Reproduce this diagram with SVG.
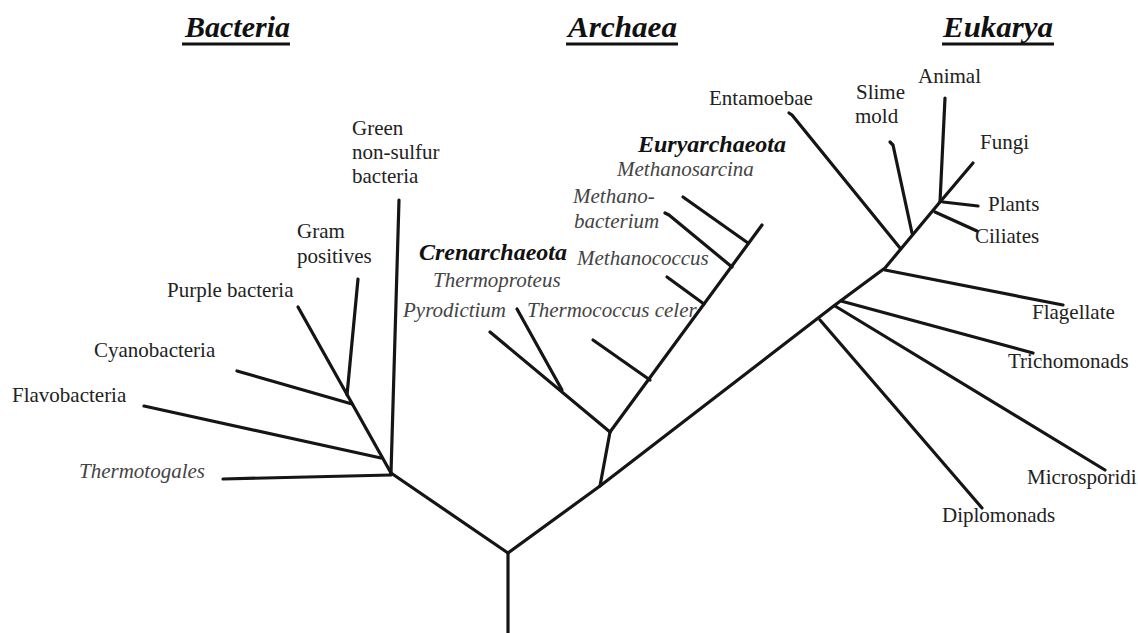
<svg xmlns="http://www.w3.org/2000/svg" width="1138" height="633" viewBox="0 0 1138 633">
  <style>
    .bg { fill: #ffffff; }
    .branch { fill: none; stroke: #151515; stroke-width: 3.2; stroke-linecap: round; stroke-linejoin: round; }
    .label { font-family: 'Liberation Serif', 'Tinos', 'Noto Serif', 'DejaVu Serif', 'Times New Roman', Times, serif; font-size: 21px; fill: #222; }
    .species { font-family: 'Liberation Serif', 'Tinos', 'Noto Serif', 'DejaVu Serif', 'Times New Roman', Times, serif; font-size: 21px; font-style: italic; fill: #444; }
    .phylum { font-family: 'Liberation Serif', 'Tinos', 'Noto Serif', 'DejaVu Serif', 'Times New Roman', Times, serif; font-size: 24px; font-style: italic; font-weight: bold; fill: #111; }
    .domain { font-family: 'Liberation Serif', 'Tinos', 'Noto Serif', 'DejaVu Serif', 'Times New Roman', Times, serif; font-size: 30px; font-style: italic; font-weight: bold; fill: #111; }
    .rule { stroke: #111; stroke-width: 3; }
  </style>

  <rect class="bg" x="0" y="0" width="1138" height="633"/>

  <!-- Domain headings -->
  <g id="heading-bacteria">
    <text class="domain" x="185" y="37" textLength="105" lengthAdjust="spacingAndGlyphs">Bacteria</text>
    <line class="rule" x1="182" y1="44" x2="290" y2="44"/>
  </g>
  <g id="heading-archaea">
    <text class="domain" x="568" y="37" textLength="109" lengthAdjust="spacingAndGlyphs">Archaea</text>
    <line class="rule" x1="566" y1="44" x2="678" y2="44"/>
  </g>
  <g id="heading-eukarya">
    <text class="domain" x="943" y="37" textLength="110" lengthAdjust="spacingAndGlyphs">Eukarya</text>
    <line class="rule" x1="942" y1="44" x2="1054" y2="44"/>
  </g>

  <!-- Tree branches -->
  <g id="connectors">
    <!-- root and the three domain trunks -->
    <line class="branch" x1="508" y1="633" x2="508" y2="553"/>
    <line class="branch" x1="508" y1="553" x2="391" y2="473"/>
    <polyline class="branch" points="508,553 600,486 835,305 885,268 940,202"/>

    <!-- Bacteria -->
    <line class="branch" x1="391" y1="473" x2="399" y2="200"/>
    <line class="branch" x1="391" y1="475" x2="223" y2="479"/>
    <line class="branch" x1="391" y1="473" x2="298" y2="307"/>
    <line class="branch" x1="381" y1="458" x2="144" y2="406"/>
    <line class="branch" x1="352" y1="404" x2="237" y2="371"/>
    <line class="branch" x1="347" y1="395" x2="358" y2="279"/>

    <!-- Archaea -->
    <line class="branch" x1="600" y1="486" x2="610" y2="432"/>
    <line class="branch" x1="610" y1="432" x2="490" y2="332"/>
    <line class="branch" x1="562" y1="390" x2="517" y2="309"/>
    <line class="branch" x1="610" y1="432" x2="762" y2="225"/>
    <line class="branch" x1="650" y1="380" x2="593" y2="340"/>
    <line class="branch" x1="704" y1="304" x2="667" y2="277"/>
    <polyline class="branch" points="732,267 669,215 665,213"/>
    <line class="branch" x1="748" y1="243" x2="683" y2="197"/>

    <!-- Eukarya -->
    <line class="branch" x1="820" y1="320" x2="982" y2="508"/>
    <line class="branch" x1="835" y1="306" x2="1105" y2="470"/>
    <line class="branch" x1="841" y1="301" x2="1033" y2="353"/>
    <line class="branch" x1="885" y1="270" x2="1063" y2="305"/>
    <polyline class="branch" points="900,248 792,115 789,113"/>
    <polyline class="branch" points="912,233 893,145 890,142"/>
    <line class="branch" x1="935" y1="212" x2="977" y2="231"/>
    <line class="branch" x1="940" y1="202" x2="945" y2="98"/>
    <line class="branch" x1="940" y1="202" x2="973" y2="163"/>
    <line class="branch" x1="943" y1="202" x2="978" y2="206"/>
  </g>

  <!-- Bacteria taxa -->
  <g id="node-green-non-sulfur">
    <text class="label" x="352" y="135">Green</text>
    <text class="label" x="352" y="159">non-sulfur</text>
    <text class="label" x="352" y="183">bacteria</text>
  </g>
  <g id="node-gram-positives">
    <text class="label" x="297" y="238">Gram</text>
    <text class="label" x="297" y="263">positives</text>
  </g>
  <g id="node-purple-bacteria"><text class="label" x="167" y="297">Purple bacteria</text></g>
  <g id="node-cyanobacteria"><text class="label" x="94" y="357">Cyanobacteria</text></g>
  <g id="node-flavobacteria"><text class="label" x="12" y="402">Flavobacteria</text></g>
  <g id="node-thermotogales"><text class="species" x="79" y="478">Thermotogales</text></g>

  <!-- Archaea taxa -->
  <g id="node-crenarchaeota"><text class="phylum" x="419" y="260">Crenarchaeota</text></g>
  <g id="node-thermoproteus"><text class="species" x="433" y="287">Thermoproteus</text></g>
  <g id="node-pyrodictium"><text class="species" x="403" y="317">Pyrodictium</text></g>
  <g id="node-thermococcus"><text class="species" x="527" y="317">Thermococcus celer</text></g>
  <g id="node-methanococcus"><text class="species" x="577" y="265">Methanococcus</text></g>
  <g id="node-methanobacterium">
    <text class="species" x="573" y="203">Methano-</text>
    <text class="species" x="574" y="228">bacterium</text>
  </g>
  <g id="node-methanosarcina"><text class="species" x="617" y="176">Methanosarcina</text></g>
  <g id="node-euryarchaeota"><text class="phylum" x="638" y="152">Euryarchaeota</text></g>

  <!-- Eukarya taxa -->
  <g id="node-entamoebae"><text class="label" x="709" y="105">Entamoebae</text></g>
  <g id="node-slime-mold">
    <text class="label" x="856" y="99">Slime</text>
    <text class="label" x="855" y="123">mold</text>
  </g>
  <g id="node-animal"><text class="label" x="918" y="83">Animal</text></g>
  <g id="node-fungi"><text class="label" x="980" y="149">Fungi</text></g>
  <g id="node-plants"><text class="label" x="988" y="211">Plants</text></g>
  <g id="node-ciliates"><text class="label" x="975" y="243">Ciliates</text></g>
  <g id="node-flagellate"><text class="label" x="1032" y="319">Flagellate</text></g>
  <g id="node-trichomonads"><text class="label" x="1008" y="368">Trichomonads</text></g>
  <g id="node-microsporidi"><text class="label" x="1027" y="484">Microsporidi</text></g>
  <g id="node-diplomonads"><text class="label" x="942" y="522">Diplomonads</text></g>
</svg>
